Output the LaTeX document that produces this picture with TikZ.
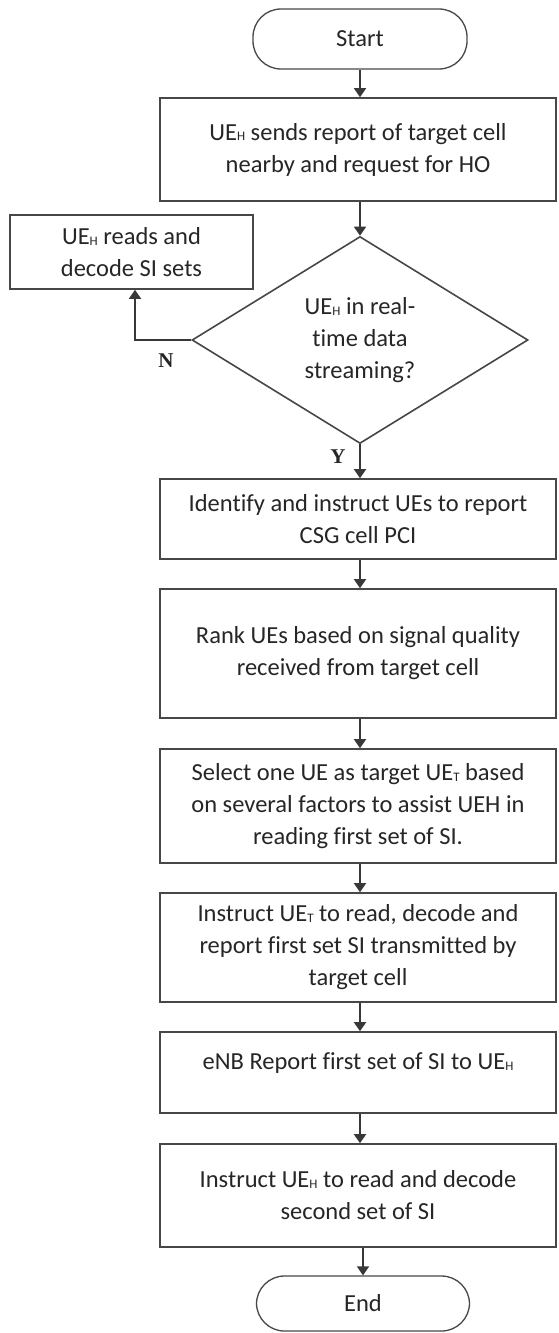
\documentclass[tikz,border=0pt]{standalone}
\usepackage{fontspec}
\setmainfont{Carlito}[Ligatures=NoCommon]
\newfontfamily\labfont{Liberation Serif}
\usetikzlibrary{arrows.meta,shapes.geometric}
\newcommand{\ssub}[1]{\raisebox{-0.6pt}{\fontsize{13}{13}\selectfont #1}}
\begin{document}
\begin{tikzpicture}[x=1pt,y=-1pt,
  every node/.style={font=\fontsize{24.5}{32}\selectfont, text=black!85},
  box/.style={draw=black!72, line width=1.6pt, rectangle, minimum width=396pt, align=center, inner sep=0pt},
  sidebox/.style={draw=black!72, line width=1.6pt, rectangle, align=center, inner sep=0pt},
  pill/.style={draw=black!72, line width=1.3pt, rectangle, rounded corners=28pt, inner sep=0pt},
  decision/.style={draw=black!72, line width=1.6pt, diamond, aspect=1.62, inner sep=0pt, align=center, minimum width=336pt, minimum height=207pt},
  arr/.style={draw=black!78, line width=1.6pt, -{Triangle[width=12pt,length=9pt]}},
  yn/.style={font=\labfont\bfseries\fontsize{21}{21}\selectfont, text=black!85}
]
\useasboundingbox (0,0) rectangle (558,1333);
\fill[white] (0,0) rectangle (558,1333);

\node[pill, minimum width=214pt, minimum height=60pt] (start) at (360,39) {Start};
\node[box, minimum height=103pt] (b1) at (358,149.5) {UE\ssub{H} sends report of target cell\\ nearby and request for HO};
\node[decision] (dec) at (360,340) {UE\ssub{H} in real-\\ time data\\ streaming?};
\node[sidebox, minimum width=243pt, minimum height=74pt] (side) at (131.5,252) {UE\ssub{H} reads and\\ decode SI sets};
\node[box, minimum height=80pt] (b3) at (358,519) {Identify and instruct UEs to report\\ CSG cell PCI};
\node[box, minimum height=129pt] (b4) at (358,653.5) {Rank UEs based on signal quality\\ received from target cell};
\node[box, minimum height=114pt] (b5) at (358,806) {Select one UE as target UE\ssub{T} based\\ on several factors to assist UEH in\\ reading first set of SI.};
\node[box, minimum height=109pt] (b6) at (358,947.5) {Instruct UE\ssub{T} to read, decode and\\ report first set SI transmitted by\\ target cell};
\node[box, minimum height=81pt, text depth=22pt] (b7) at (358,1072.5) {eNB Report first set of SI to UE\ssub{H}};
\node[box, minimum height=103pt] (b8) at (358,1195.5) {Instruct UE\ssub{H} to read and decode\\ second set of SI};
\node[pill, minimum width=213pt, minimum height=55pt] (end) at (363,1303.5) {End};

\node[yn] (nlab) at (166,361) {N};
\node[yn] (ylab) at (338,457) {Y};

\draw[arr] (start.south -| dec.north) -- (b1.north -| dec.north);
\draw[arr] (b1.south -| dec.north) -- (dec.north);
\draw[arr] (dec.west) -| ([xshift=3.5pt]side.south);
\draw[arr] (dec.south) -- (b3.north -| dec.south);
\draw[arr] (b3.south -| dec.south) -- (b4.north -| dec.south);
\draw[arr] (b4.south -| dec.south) -- (b5.north -| dec.south);
\draw[arr] (b5.south -| dec.south) -- (b6.north -| dec.south);
\draw[arr] (b6.south -| dec.south) -- (b7.north -| dec.south);
\draw[arr] (b7.south -| dec.south) -- (b8.north -| dec.south);
\draw[arr] (b8.south -| end.north) -- (end.north);
\end{tikzpicture}
\end{document}
